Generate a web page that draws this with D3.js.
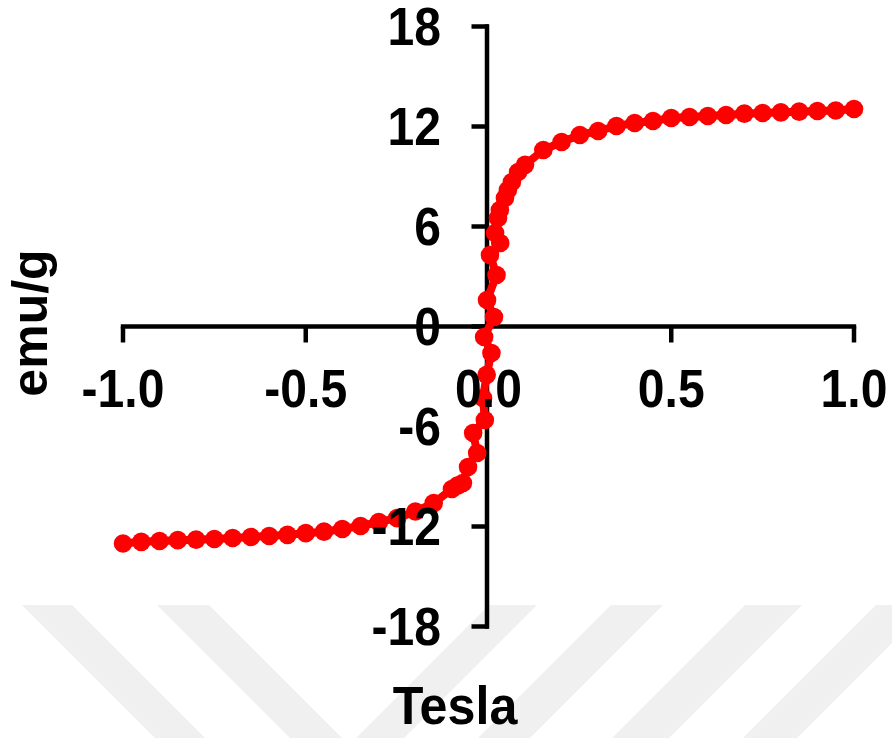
<!DOCTYPE html>
<html><head><meta charset="utf-8">
<script src="https://cdn.jsdelivr.net/npm/d3@7/dist/d3.min.js"></script>
<style>html,body{margin:0;padding:0;background:#fff;}svg{display:block;}</style>
</head><body>
<svg id="c" width="892" height="738"></svg>
<script>
// Magnetization curve: applied field (Tesla) and magnetization (emu/g)
const fieldT = [-1.00,-0.95,-0.90,-0.85,-0.80,-0.75,-0.70,-0.65,-0.60,-0.55,-0.50,-0.45,-0.40,-0.35,-0.30,-0.25,-0.20,-0.15,-0.10,-0.085,-0.07,-0.056,-0.031,-0.042,-0.010,-0.015,-0.005,0.008,-0.012,0.015,-0.004,0.022,0.004,0.032,0.018,0.026,0.031,0.045,0.053,0.064,0.081,0.10,0.15,0.20,0.25,0.30,0.35,0.40,0.45,0.50,0.55,0.60,0.65,0.70,0.75,0.80,0.85,0.90,0.95,1.00];
const magEmuG = [-13.02,-12.92,-12.87,-12.82,-12.79,-12.75,-12.69,-12.63,-12.57,-12.50,-12.40,-12.31,-12.15,-11.97,-11.73,-11.50,-11.10,-10.60,-9.75,-9.55,-9.39,-8.43,-7.59,-6.39,-5.61,-4.29,-2.90,-1.59,-0.63,0.57,1.59,3.09,4.29,5.01,5.61,6.51,6.99,7.71,8.19,8.67,9.27,9.70,10.59,11.07,11.49,11.73,12.03,12.21,12.33,12.51,12.57,12.63,12.69,12.77,12.81,12.85,12.89,12.93,12.96,13.05];
const xTicks = [-1.0,-0.5,0.0,0.5,1.0];
const yTicks = [-18,-12,-6,0,6,12,18];
const xTitle = "Tesla";
const yTitle = "emu/g";

const svg = d3.select("#c");
const x = d3.scaleLinear().domain([-1,1]).range([123,854]);
const y = d3.scaleLinear().domain([-18,18]).range([626.5,26.5]);
const FONT = "'Liberation Sans', Arial, sans-serif";
const SX = 0.89;

// watermark stripes (decoration)
const wm = svg.append("g").attr("fill","#f0f0f0");
const wTop = 605, wBot = 738, wH = wBot - wTop;
[[22,72,1],[157,209,1],[489,537,-1],[611,663,-1],[745,802,-1],[876,930,-1]].forEach(([a,b,d])=>{
  wm.append("path").attr("d",`M${a},${wTop}L${b},${wTop}L${b+d*wH},${wBot}L${a+d*wH},${wBot}Z`);
});

// axes lines
const ax = svg.append("g").attr("stroke","#000").attr("stroke-width",4.5).attr("fill","none");
ax.append("line").attr("x1",x(0)-1.5).attr("x2",x(0)-1.5).attr("y1",y(18)-2.2).attr("y2",y(-18)+2.2);
ax.append("line").attr("x1",x(-1)-2.2).attr("x2",x(1)+2.2).attr("y1",y(0)).attr("y2",y(0));
yTicks.forEach(t=>ax.append("line").attr("x1",x(0)-17).attr("x2",x(0)).attr("y1",y(t)).attr("y2",y(t)));
xTicks.forEach(t=>ax.append("line").attr("x1",x(t)).attr("x2",x(t)).attr("y1",y(0)).attr("y2",y(0)+16));

// data
const pts = fieldT.map((v,i)=>({h:v,m:magEmuG[i]}));
svg.append("path").datum(pts)
  .attr("d",d3.line().x(d=>x(d.h)).y(d=>y(d.m)))
  .attr("fill","none").attr("stroke","#ff0000").attr("stroke-width",8).attr("stroke-linejoin","round");
svg.append("g").selectAll("circle").data(pts).join("circle")
  .attr("cx",d=>x(d.h)).attr("cy",d=>y(d.m)).attr("r",9.3).attr("fill","#ff0000");

// tick labels
const lab = svg.append("g").attr("font-family",FONT).attr("font-weight","bold").attr("font-size",54).attr("fill","#000");
xTicks.forEach(t=>{
  lab.append("text").attr("transform",`translate(${x(t)},407) scale(${SX},1)`)
    .attr("text-anchor","middle").text(d3.format(".1f")(t).replace("−","-"));
});
yTicks.forEach(t=>{
  lab.append("text").attr("transform",`translate(441,${y(t)}) scale(${SX},1)`)
    .attr("text-anchor","end").attr("dy","0.35em").text(String(t));
});
// titles
svg.append("text").attr("transform",`translate(455,724) scale(0.93,1)`)
  .attr("text-anchor","middle").attr("font-family",FONT).attr("font-weight","bold").attr("font-size",54).text(xTitle);
svg.append("text").attr("transform",`translate(47,323) rotate(-90)`)
  .attr("text-anchor","middle").attr("font-family",FONT).attr("font-weight","bold").attr("font-size",50).text(yTitle);
</script>
</body></html>
